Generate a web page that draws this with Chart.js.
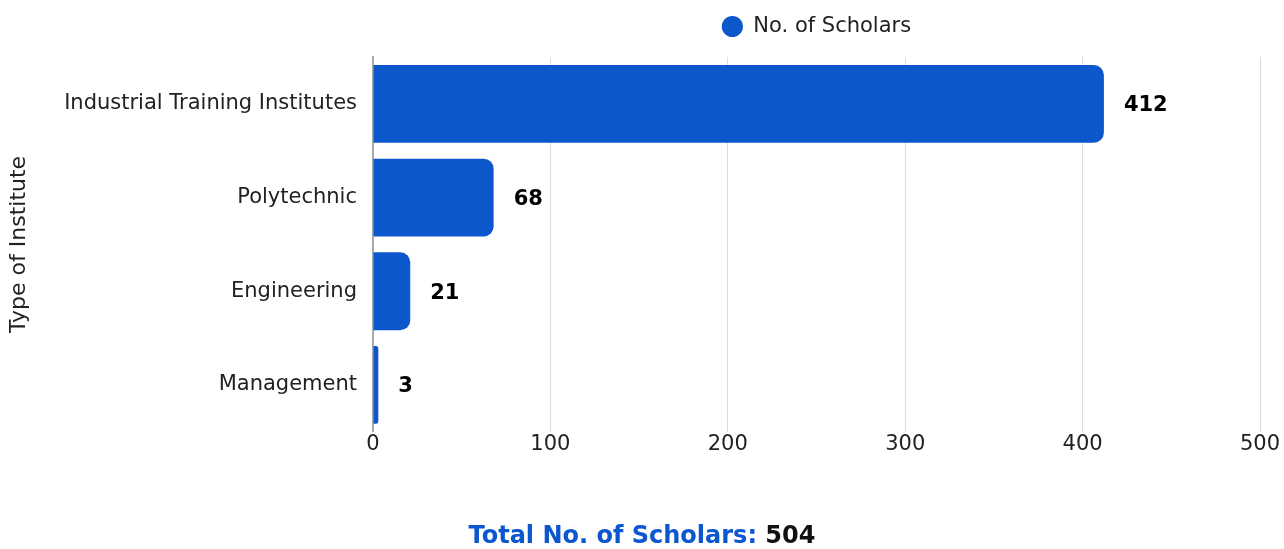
<!DOCTYPE html>
<html>
<head>
<meta charset="utf-8">
<script src="https://cdn.jsdelivr.net/npm/chart.js@4.4.1/dist/chart.umd.min.js"></script>
<style>
  html, body { margin: 0; padding: 0; background: #fff; overflow: hidden; }
  #wrap { position: relative; width: 1284px; height: 549px; }
  canvas { display: block; }
  #total {
    position: absolute; left: 0; right: 0; top: 521px;
    text-align: center; font-family: "DejaVu Sans", sans-serif;
    font-weight: 700; font-size: 24px; color: #0b57d0;
  }
  #total span { color: #111; }
</style>
</head>
<body>
<div id="wrap">
  <canvas id="barChart" width="1284" height="549"></canvas>
  <div id="total">Total No. of Scholars: <span id="totalValue"></span></div>
</div>
<script>
var categories = ["Industrial Training Institutes", "Polytechnic", "Engineering", "Management"];
var scholars = [412, 68, 21, 3];
var xTicks = [0, 100, 200, 300, 400, 500];

var barBlue = "#0b57cb";
var fontFamily = "'DejaVu Sans', sans-serif";

document.getElementById("totalValue").textContent =
  scholars.reduce(function (a, b) { return a + b; }, 0);

// value labels to the right of each bar
var barValues = {
  id: "barValues",
  afterDatasetsDraw: function (chart) {
    var ctx = chart.ctx;
    var meta = chart.getDatasetMeta(0);
    ctx.save();
    ctx.font = "bold 21px " + fontFamily;
    ctx.fillStyle = "#000";
    ctx.textAlign = "left";
    ctx.textBaseline = "middle";
    meta.data.forEach(function (bar, i) {
      ctx.fillText(chart.data.datasets[0].data[i], bar.x + 20, bar.y + 2);
    });
    ctx.restore();
  }
};

// keep the legend centred over the plot rather than the whole canvas
var legendOverPlot = {
  id: "legendOverPlot",
  afterLayout: function (chart) {
    var lg = chart.legend;
    lg.left = chart.chartArea.left;
    lg.right = chart.chartArea.right;
    lg.top -= 10;
    lg.bottom -= 10;
  }
};

var ctx = document.getElementById("barChart").getContext("2d");
var chart = new Chart(ctx, {
  type: "bar",
  data: {
    labels: categories,
    datasets: [
      {
        label: "No. of Scholars",
        data: scholars,
        backgroundColor: barBlue,
        borderRadius: 10,
        borderSkipped: "start",
        barPercentage: 0.83,
        categoryPercentage: 1
      }
    ]
  },
  options: {
    indexAxis: "y",
    responsive: false,
    animation: false,
    layout: { padding: { top: 0, right: 24, bottom: 92 } },
    plugins: {
      legend: {
        display: true,
        position: "top",
        labels: {
          usePointStyle: true,
          pointStyle: "circle",
          boxHeight: 15,
          color: "#222",
          padding: 26,
          font: { family: fontFamily, size: 21 }
        }
      },
      tooltip: { enabled: false }
    },
    scales: {
      x: {
        min: 0,
        max: 500,
        afterBuildTicks: function (scale) {
          scale.ticks = xTicks.map(function (v) { return { value: v }; });
        },
        grid: { color: "#dcdcdc", drawTicks: false },
        border: { display: false },
        ticks: {
          color: "#222",
          padding: 0,
          font: { family: fontFamily, size: 21 }
        }
      },
      y: {
        afterFit: function (scale) { scale.width = 373; },
        grid: { display: false, drawTicks: false },
        border: { display: true, color: "#aaa", width: 2 },
        ticks: {
          color: "#222",
          padding: 16,
          font: { family: fontFamily, size: 21 }
        },
        title: {
          display: true,
          text: "Type of Institute",
          color: "#222",
          padding: { top: 6, bottom: 4 },
          font: { family: fontFamily, size: 22 }
        }
      }
    }
  },
  plugins: [barValues, legendOverPlot]
});
</script>
</body>
</html>
